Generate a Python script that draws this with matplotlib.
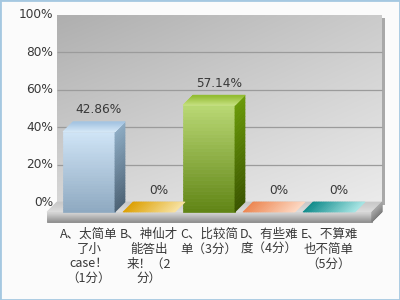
import numpy as np
import matplotlib
matplotlib.use("Agg")
import matplotlib.pyplot as plt
from matplotlib.collections import PolyCollection
from matplotlib.patches import Rectangle
from matplotlib.transforms import offset_copy, IdentityTransform
from matplotlib.colors import to_rgb

# ---- data -------------------------------------------------------------
categories = [
    "A、太简单\n了小\ncase！\n（1分）",
    "B、神仙才\n能答出\n来！（2\n分）",
    "C、比较简\n单（3分）",
    "D、有些难\n度（4分）",
    "E、不算难\n也不简单\n（5分）",
]
shares = [42.86, 0.0, 57.14, 0.0, 0.0]
tick_values = [0, 20, 40, 60, 80, 100]
tick_labels = ["0%", "20%", "40%", "60%", "80%", "100%"]

# ---- styling ----------------------------------------------------------
W, H, DPI = 400, 300, 100
DEPTH = 10          # pixel depth of the 3-D extrusion
HALF = 0.433        # half bar width in category units
TEXT = "#383838"
CJK = ["Noto Sans CJK SC", "DejaVu Sans"]

bar_styles = [
    # front top, front bottom, side top, side bottom, top face a, top face b
    dict(ft="#cfe4f6", fb="#8da8c0", st="#8eacc4", sb="#4b6174", ta="#a4c4e2", tb="#d8eaf8"),
    dict(ft="#f4d060", fb="#d9a000", st="#c89000", sb="#a07000", ta="#dea000", tb="#f8e2a0"),
    dict(ft="#b9d874", fb="#5f8414", st="#6a9a08", sb="#3a5400", ta="#92bc30", tb="#c8e284"),
    dict(ft="#fbb890", fb="#e07840", st="#d06a30", sb="#a04a18", ta="#ee8650", tb="#fed8c2"),
    dict(ft="#40b8b8", fb="#0a7a7a", st="#0a7070", sb="#045050", ta="#0c8a8a", tb="#a8e6e4"),
]

fig = plt.figure(figsize=(W / DPI, H / DPI), dpi=DPI)
fig.patch.set_facecolor("#fbfbfb")

# front plane of the 3-D box, placed in pixel units
front_left, front_right = 47, 372
row_zero, row_full = 212, 25
ax = fig.add_axes([front_left / W, 1 - row_zero / H,
                   (front_right - front_left) / W, (row_zero - row_full) / H])
n = len(categories)
xl0 = -0.7
xl1 = xl0 + (front_right - front_left) / 60.0
ax.set_xlim(xl0, xl1)
ax.set_ylim(0, 100)
ax.axis("off")

back = offset_copy(ax.transData, fig=fig, x=DEPTH, y=DEPTH, units="dots")


def disp(x, y, depth=0, drop=0):
    px, py = ax.transData.transform((x, y))
    return np.array([px + depth, py + depth - drop])


def bilerp(q, u, v):
    bl, br, tr, tl = q
    bottom = bl + (br - bl) * u
    top = tl + (tr - tl) * u
    return bottom + (top - bottom) * v


def face(q, c0, c1, along="v", steps=30, z=3):
    c0, c1 = np.array(to_rgb(c0)), np.array(to_rgb(c1))
    polys, cols = [], []
    for k in range(steps):
        a, b = k / steps, (k + 1) / steps
        if along == "v":
            pts = [bilerp(q, 0, a), bilerp(q, 1, a), bilerp(q, 1, b), bilerp(q, 0, b)]
        else:
            pts = [bilerp(q, a, 0), bilerp(q, b, 0), bilerp(q, b, 1), bilerp(q, a, 1)]
        t = (k + 0.5) / steps
        polys.append(pts)
        cols.append(c0 * (1 - t) + c1 * t)
    pc = PolyCollection(polys, facecolors=cols, edgecolors=cols, linewidths=0.5,
                        transform=IdentityTransform(), zorder=z)
    pc.set_clip_on(False)
    ax.add_collection(pc, autolim=False)


# ---- back wall --------------------------------------------------------
gy, gx = np.mgrid[0:1:80j, 0:1:80j]
tl_c, tr_c = np.array(to_rgb("#afafaf")), np.array(to_rgb("#cbcbcb"))
bl_c, br_c = np.array(to_rgb("#d6d6d6")), np.array(to_rgb("#ebebeb"))
wall = (tl_c * ((1 - gx) * (1 - gy))[..., None] + tr_c * (gx * (1 - gy))[..., None]
        + bl_c * ((1 - gx) * gy)[..., None] + br_c * (gx * gy)[..., None])
im = ax.imshow(wall, extent=(xl0, xl1, 0, 100), transform=back, aspect="auto",
               interpolation="bilinear", origin="upper", zorder=0)
im.set_clip_on(False)

# wall drop shadow on the right
wr = disp(xl1, 100, DEPTH)
wb = disp(xl1, 0, DEPTH)
shadow = Rectangle((wr[0], wb[1] - 3), 3, wr[1] - wb[1], transform=IdentityTransform(),
                   facecolor="#a9a9a9", edgecolor="none", zorder=0)
shadow.set_clip_on(False)
ax.add_patch(shadow)

for v in tick_values[1:-1]:
    ax.plot([xl0, xl1], [v, v], color="#9b9b9b", lw=0.9, transform=back,
            zorder=1, clip_on=False, solid_capstyle="butt")

for v, lab in zip(tick_values, tick_labels):
    ax.annotate(lab, (xl0, v), xycoords=back, xytext=(-4, 0),
                textcoords="offset pixels", ha="right", va="center",
                fontsize=8.7, color=TEXT, family="DejaVu Sans")

# ---- floor slab -------------------------------------------------------
FL = 10
face([disp(xl0, 0), disp(xl1, 0), disp(xl1, 0, DEPTH), disp(xl0, 0, DEPTH)],
     "#dedede", "#c9c9c9", along="v", z=2)
face([disp(xl0, 0, drop=FL), disp(xl1, 0, drop=FL), disp(xl1, 0), disp(xl0, 0)],
     "#8a8a8a", "#d4d4d4", along="v", z=2)
face([disp(xl1, 0, drop=FL), disp(xl1, 0, DEPTH, drop=FL), disp(xl1, 0, DEPTH), disp(xl1, 0)],
     "#7c7c7c", "#a6a6a6", along="v", z=2)

# ---- bars -------------------------------------------------------------
for i, (v, s) in enumerate(zip(shares, bar_styles)):
    x0, x1 = i - HALF, i + HALF
    if v > 0:
        face([disp(x0, 0), disp(x1, 0), disp(x1, v), disp(x0, v)], s["fb"], s["ft"], "v", z=4)
        face([disp(x1, 0), disp(x1, 0, DEPTH), disp(x1, v, DEPTH), disp(x1, v)],
             s["sb"], s["st"], "v", z=4)
        face([disp(x0, v), disp(x1, v), disp(x1, v, DEPTH), disp(x0, v, DEPTH)],
             s["tb"], s["ta"], "v", z=5)
    else:
        face([disp(x0, v), disp(x1, v), disp(x1, v, DEPTH), disp(x0, v, DEPTH)],
             s["ta"], s["tb"], "u", z=5)
    ax.annotate(f"{v:g}%" if v == 0 else f"{v:.2f}%", (i, v), xytext=(10, 22),
                textcoords="offset pixels", ha="center", va="center",
                fontsize=8.7, color=TEXT, family="DejaVu Sans", zorder=6)

# ---- category labels ---------------------------------------------------
for i, lab in enumerate(categories):
    ax.annotate(lab, (i, 0), xytext=(0, -16), textcoords="offset pixels",
                ha="center", va="top", multialignment="center", linespacing=1.17,
                fontsize=9.0, color=TEXT, family=CJK)

# outer frame
fig.add_artist(Rectangle((0, 0), 1, 1, transform=fig.transFigure, fill=False,
                         edgecolor="#a5c8e1", lw=2.0))

fig.savefig("out.png", dpi=DPI, facecolor=fig.get_facecolor())
